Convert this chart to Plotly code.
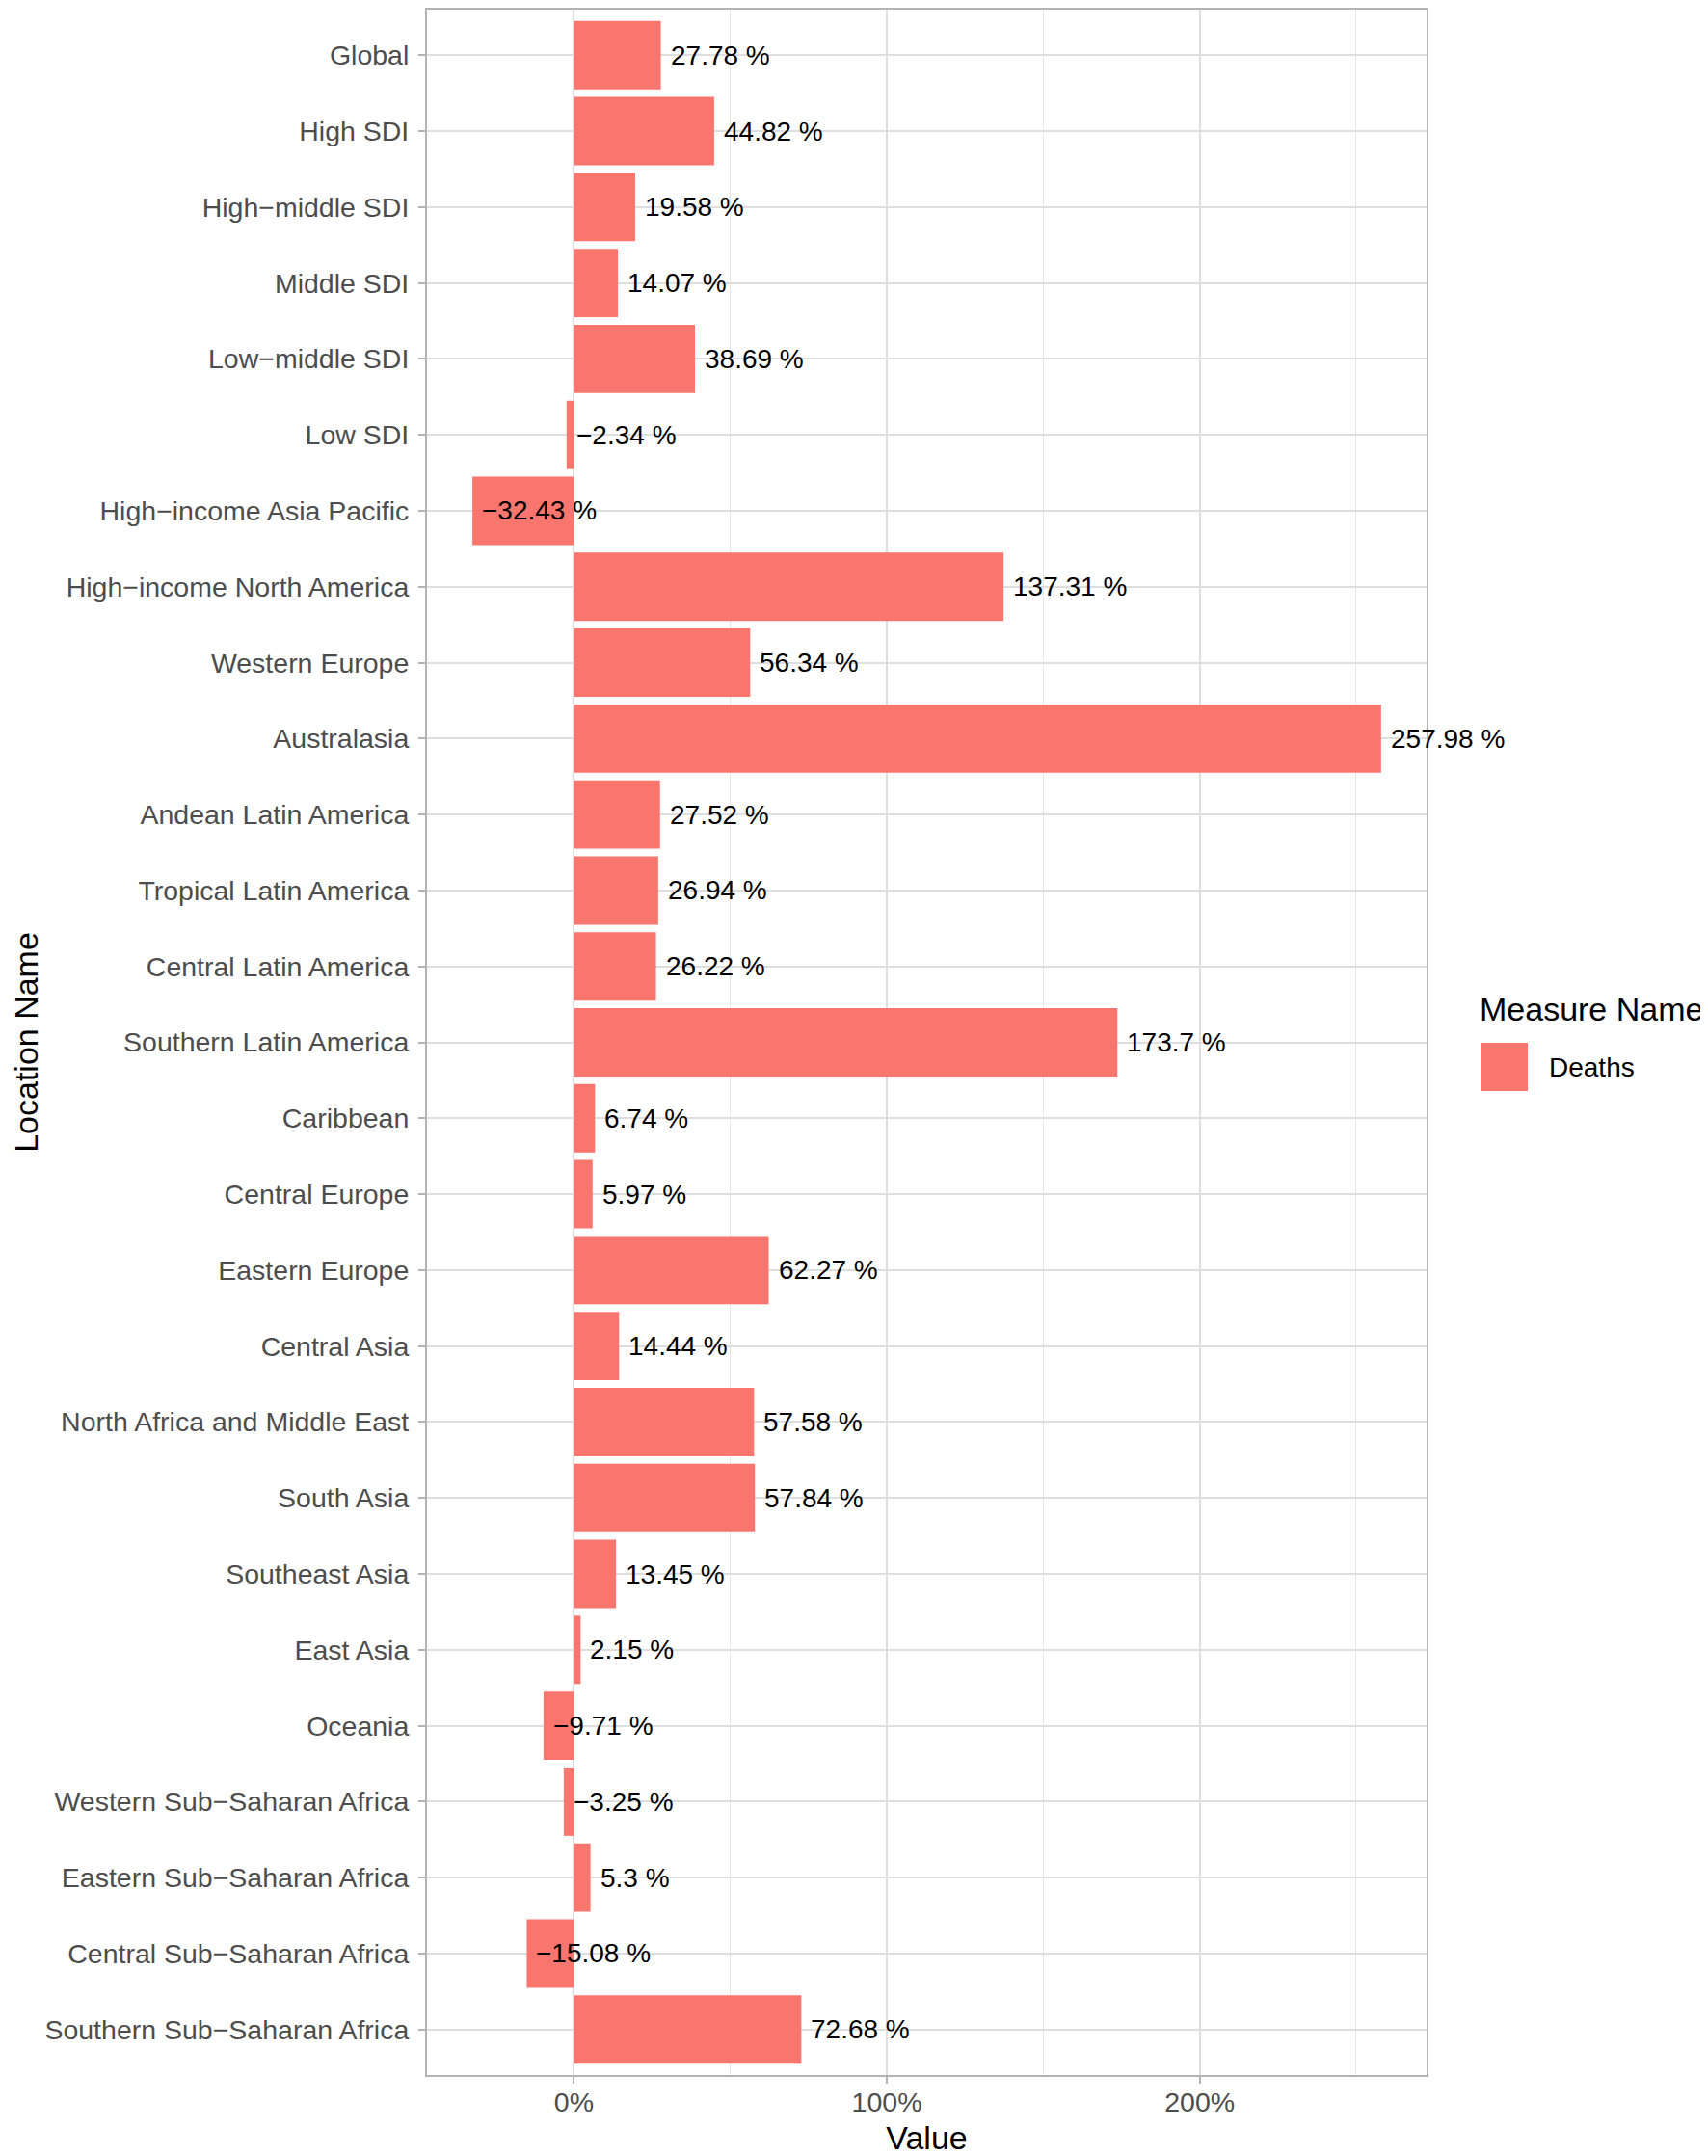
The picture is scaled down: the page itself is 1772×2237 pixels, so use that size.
import plotly.graph_objects as go

locations = [
    "Global", "High SDI", "High−middle SDI", "Middle SDI", "Low−middle SDI", "Low SDI",
    "High−income Asia Pacific", "High−income North America", "Western Europe", "Australasia",
    "Andean Latin America", "Tropical Latin America", "Central Latin America",
    "Southern Latin America", "Caribbean", "Central Europe", "Eastern Europe", "Central Asia",
    "North Africa and Middle East", "South Asia", "Southeast Asia", "East Asia", "Oceania",
    "Western Sub−Saharan Africa", "Eastern Sub−Saharan Africa", "Central Sub−Saharan Africa",
    "Southern Sub−Saharan Africa",
]
values = [
    27.78, 44.82, 19.58, 14.07, 38.69, -2.34, -32.43, 137.31, 56.34, 257.98,
    27.52, 26.94, 26.22, 173.7, 6.74, 5.97, 62.27, 14.44, 57.58, 57.84,
    13.45, 2.15, -9.71, -3.25, 5.3, -15.08, 72.68,
]
x_ticks = [0, 100, 200]
x_tick_labels = ["0%", "100%", "200%"]
x_minor_ticks = [50, 150, 250]
series_name = "Deaths"

FONT = "Liberation Sans, Arial, sans-serif"
BAR = "#F8766D"
GRID = "#DEDEDE"
BORDER = "#B3B3B3"

# page has an 8px body offset; compensate
OFF = 8
W, H = 1772 - OFF, 2237 - OFF
ML, MR, MT, MB = 443 - OFF, 292, 2, 84

fig = go.Figure()
fig.add_trace(go.Bar(
    x=values, y=locations, orientation="h", width=0.9,
    marker=dict(color=BAR, line=dict(width=0)),
    name=series_name, showlegend=False,
))

labels = [(f"{v} %").replace("-", "−") for v in values]
for v, loc, lab in zip(values, locations, labels):
    fig.add_annotation(
        x=v, y=loc, xref="x", yref="y", text=lab, showarrow=False,
        xanchor="left", yanchor="middle", xshift=8,
        font=dict(family=FONT, size=28, color="black"),
    )

lo = min(values + [0])
hi = max(values)
pad = (hi - lo) * 0.05
n = len(locations)

fig.update_layout(
    width=W, height=H,
    margin=dict(l=ML, r=MR, t=MT, b=MB, autoexpand=False),
    paper_bgcolor="white", plot_bgcolor="white",
    font=dict(family=FONT, size=28, color="#4D4D4D"),
    xaxis=dict(
        automargin=False,
        range=[lo - pad, hi + pad],
        tickmode="array", tickvals=x_ticks, ticktext=x_tick_labels,
        showgrid=True, gridcolor=GRID, gridwidth=1.6,
        minor=dict(tickmode="array", tickvals=x_minor_ticks, showgrid=True,
                   gridcolor="#E6E6E6", gridwidth=1, ticklen=0),
        zeroline=False,
        ticks="outside", ticklen=7, tickwidth=1.5, tickcolor=BORDER,
        ticklabelstandoff=-5,
        tickfont=dict(family=FONT, size=28.5, color="#4D4D4D"),
        showline=True, mirror=True, linecolor=BORDER, linewidth=2,
        title=dict(text="Value", font=dict(family=FONT, size=34, color="black"), standoff=14),
    ),
    yaxis=dict(
        automargin=False,
        type="category", categoryorder="array", categoryarray=locations,
        range=[n - 1 + 0.6, -0.6],
        showgrid=True, gridcolor=GRID, gridwidth=1.6,
        zeroline=False,
        ticks="outside", ticklen=7, tickwidth=1.5, tickcolor=BORDER,
        ticklabelstandoff=4,
        tickfont=dict(family=FONT, size=28.5, color="#4D4D4D"),
        showline=True, mirror=True, linecolor=BORDER, linewidth=2,
        title=dict(text="Location Name", font=dict(family=FONT, size=34, color="black"), standoff=18),
    ),
)


def px_to_paper_x(px):
    return (px - OFF - ML) / (W - ML - MR)


def px_to_paper_y(py):
    return 1 - (py - OFF - MT) / (H - MT - MB)


# legend (ggplot-style guide)
fig.add_annotation(
    x=px_to_paper_x(1533), y=px_to_paper_y(1047), xref="paper", yref="paper",
    text="Measure Name", showarrow=False, xanchor="left", yanchor="middle",
    font=dict(family=FONT, size=34, color="black"),
)
fig.add_shape(type="rect", xref="paper", yref="paper",
              x0=px_to_paper_x(1536), x1=px_to_paper_x(1585),
              y0=px_to_paper_y(1132), y1=px_to_paper_y(1082),
              fillcolor=BAR, line=dict(width=0))
fig.add_annotation(
    x=px_to_paper_x(1605), y=px_to_paper_y(1107), xref="paper", yref="paper",
    text=series_name, showarrow=False, xanchor="left", yanchor="middle",
    font=dict(family=FONT, size=28, color="black"),
)

fig.write_html("out.html")
